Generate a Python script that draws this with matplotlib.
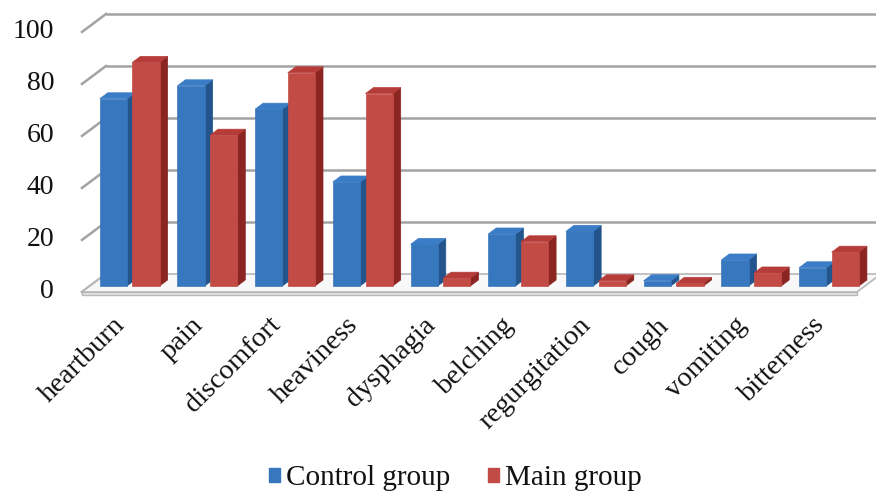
import matplotlib
matplotlib.use("Agg")
import matplotlib.pyplot as plt
from matplotlib.patches import Polygon, Patch

# Symptom frequencies by group
categories = ["heartburn", "pain", "discomfort", "heaviness", "dysphagia",
              "belching", "regurgitation", "cough", "vomiting", "bitterness"]
control_group = [72, 77, 68, 40, 16, 20, 21, 2, 10, 7]
main_group = [86, 58, 82, 74, 3, 17, 2, 1, 5, 13]
y_ticks = [0, 20, 40, 60, 80, 100]
series_names = ["Control group", "Main group"]

# Face colours (front, side, top) for each series
blue = ("#3777BE", "#23548C", "#3A7CC6")
red = ("#C34B46", "#8A2522", "#B63C39")

SERIF = "Liberation Serif"
TEXT_COL = "#111111"

# Oblique projection: depth z in [0, 1] shifts right and up
KX = 0.309
KV = 6.92


def proj(x, v, z):
    return (x + z * KX, v + z * KV)


fig = plt.figure(figsize=(8.76, 4.94), dpi=100)
ax = fig.add_axes([0, 0, 1, 1])
ax.set_xlim(-1.566, 9.708)
ax.set_ylim(-77.7, 112.3)
ax.axis("off")

x_left = -0.511
x_right = 9.463
grid_col = "#a3a3a3"

# Back wall gridlines and left-side diagonals
for v in y_ticks:
    if v > 0:
        p0 = proj(x_left, v, 1)
        p1 = proj(x_right + 0.2, v, 1)
        ax.plot([p0[0], p1[0]], [p0[1], p1[1]], color=grid_col, lw=1.8,
                zorder=1, solid_capstyle="butt")
    f = proj(x_left, v, 0)
    b = proj(x_left, v, 1)
    ax.plot([f[0], b[0]], [f[1], b[1]], color=grid_col, lw=1.8, zorder=1)
    ax.text(-0.871, v, str(v), ha="right", va="center", fontsize=20,
            family=SERIF, color=TEXT_COL)

# Floor slab
floor_top = [proj(x_left, 0, 0), proj(x_right, 0, 0),
             proj(x_right, 0, 1), proj(x_left, 0, 1)]
ax.add_patch(Polygon(floor_top, closed=True, facecolor="#f8f8f8",
                     edgecolor="#b8b8b8", lw=1.2, zorder=2))
slab = [proj(x_left, -1.0, 0), proj(x_right, -1.0, 0),
        proj(x_right, 0, 0), proj(x_left, 0, 0)]
ax.add_patch(Polygon(slab, closed=True, facecolor="#e6e6e6",
                     edgecolor="#b8b8b8", lw=1.0, zorder=2))

z0, z1 = 1.0 / 3.0, 2.0 / 3.0
w = 0.35
offsets = [-0.385, 0.035]
series = [control_group, main_group]
palettes = [blue, red]

zo = 3
for i in range(len(categories)):
    for s in range(2):
        val = series[s][i]
        front, side, top = palettes[s]
        xl = i + offsets[s]
        xr = xl + w
        side_pts = [proj(xr, 0, z0), proj(xr, 0, z1),
                    proj(xr, val, z1), proj(xr, val, z0)]
        top_pts = [proj(xl, val, z0), proj(xr, val, z0),
                   proj(xr, val, z1), proj(xl, val, z1)]
        ax.add_patch(Polygon(side_pts, closed=True, facecolor=side,
                             edgecolor=side, lw=0.5, zorder=zo))
        ax.add_patch(Polygon(top_pts, closed=True, facecolor=top,
                             edgecolor=top, lw=0.5, zorder=zo))
        fx, fy = proj(xl, 0, z0)
        ax.bar(fx, val, width=w, bottom=fy, align="edge", color=front,
               edgecolor=front, lw=0.5, zorder=zo + 0.5)
        zo += 1

# Category labels
for i, name in enumerate(categories):
    ax.text(i + 0.055, -13.1, name, rotation=45, rotation_mode="anchor",
            ha="right", va="baseline", fontsize=20.5, family=SERIF,
            color=TEXT_COL)

handles = [Patch(facecolor=blue[0], edgecolor=blue[0]),
           Patch(facecolor=red[0], edgecolor=red[0])]
leg = fig.legend(handles, series_names, loc="center",
                 bbox_to_anchor=(0.52, 0.032), ncol=2, frameon=False,
                 prop={"family": SERIF, "size": 21},
                 handlelength=0.38, handleheight=0.38, handletextpad=0.2,
                 columnspacing=1.3)
for t in leg.get_texts():
    t.set_color(TEXT_COL)

fig.savefig("out.png", dpi=100)
